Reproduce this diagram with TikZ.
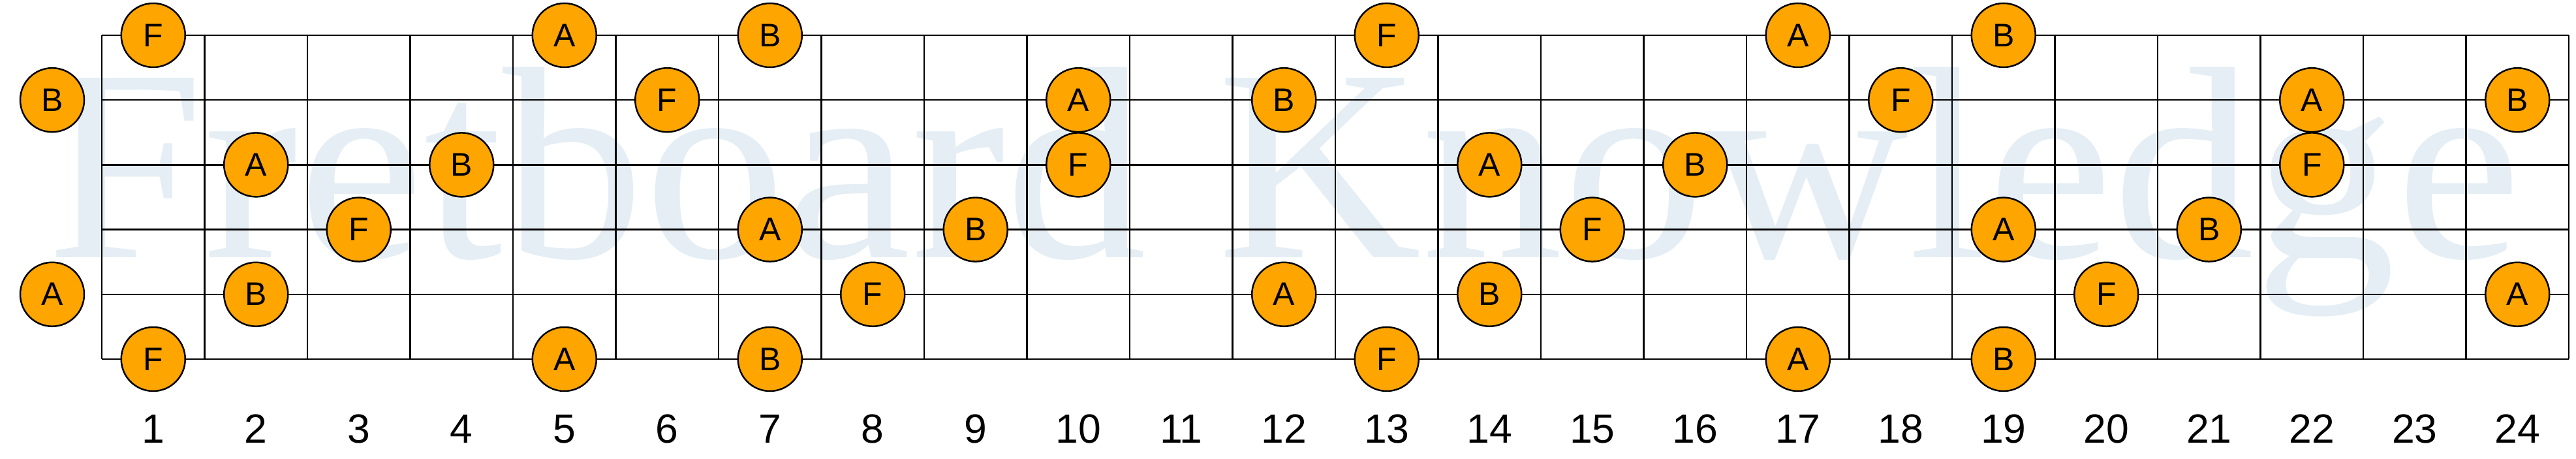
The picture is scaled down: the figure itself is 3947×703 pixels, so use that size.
\documentclass[tikz,border=0pt]{standalone}
\usepackage{fontspec}
\setmainfont{Liberation Sans}
\newfontfamily\wmfont{Liberation Serif}
\definecolor{noteorange}{HTML}{FFA500}
\definecolor{wmblue}{HTML}{E5EEF5}
\begin{document}
\begin{tikzpicture}[x=0.2pt,y=-0.2pt,
  gridline/.style={line width=0.5pt,black},
  note/.style={circle,draw=black,line width=0.5pt,fill=noteorange,minimum size=19.6pt,inner sep=0pt,font=\fontsize{10}{10}\selectfont},
  fretnum/.style={inner sep=0pt,font=\fontsize{12.5}{12.5}\selectfont},
  watermark/.style={anchor=base west,inner sep=0pt,text=wmblue,font=\wmfont\fontsize{84}{84}\selectfont}]
\useasboundingbox (0,0) rectangle (3947,703);
\node[watermark] (wm) at (71,395) {\scalebox{1.032}[1]{Fretboard Knowledge}};
% strings
\foreach \s in {1,...,6}{
  \pgfmathsetmacro{\yy}{54+(\s-1)*99.2}
  \draw[gridline] (156,\yy) -- (3936,\yy);
}
% frets
\foreach \k in {0,...,24}{
  \pgfmathsetmacro{\xx}{156+\k*157.5}
  \draw[gridline] (\xx,54) -- (\xx,550);
}
% fret numbers
\foreach \k in {1,...,24}{
  \pgfmathsetmacro{\xx}{156+(\k-0.5)*157.5}
  \node[fretnum] (num\k) at (\xx,657) {\k};
}
% notes
\foreach \s/\lst in {1/{1/F,5/A,7/B,13/F,17/A,19/B},
                     2/{0/B,6/F,10/A,12/B,18/F,22/A,24/B},
                     3/{2/A,4/B,10/F,14/A,16/B,22/F},
                     4/{3/F,7/A,9/B,15/F,19/A,21/B},
                     5/{0/A,2/B,8/F,12/A,14/B,20/F,24/A},
                     6/{1/F,5/A,7/B,13/F,17/A,19/B}}{
  \pgfmathsetmacro{\yy}{54+(\s-1)*99.2}
  \foreach \f/\n in \lst {
    \pgfmathsetmacro{\xx}{\f==0 ? 80 : 156+(\f-0.5)*157.5}
    \node[note] (n-\s-\f) at (\xx,\yy) {\n};
  }
}
\end{tikzpicture}
\end{document}
